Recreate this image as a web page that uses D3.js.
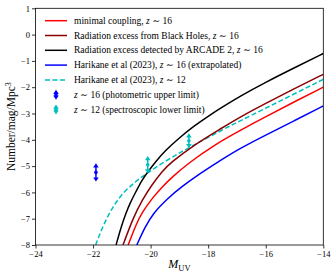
<!DOCTYPE html>
<html>
<head>
<meta charset="utf-8">
<script src="https://cdn.jsdelivr.net/npm/d3@7"></script>
<style>
  body { margin: 0; background: #fff; }
  svg { display: block; }
  text { font-family: "Liberation Serif", "DejaVu Serif", serif; fill: #000; }
</style>
</head>
<body>
<div id="chart"></div>
<script>
// curves: M_UV vs log10 number density
const mMinimal = [-20.78, -20.5, -20.31, -19.95, -19.56, -19.32, -18.69, -17.8, -16.85, -16, -15, -14];
const phiMinimal = [-8, -7.2, -6.79, -6.22, -5.75, -5.48, -4.89, -4.2, -3.62, -3.12, -2.55, -2.0];

const mBH = [-20.96, -20.6, -20.3, -19.96, -19.6, -19.32, -18.5, -17.55, -16.89, -16, -15, -14];
const phiBH = [-8, -6.95, -6.3, -5.72, -5.2, -4.88, -4.2, -3.57, -3.13, -2.61, -2.05, -1.51];

const mArcade = [-21.2, -21.05, -20.86, -20.7, -20.5, -20.31, -20.1, -19.8, -19.5, -19, -18.5, -18, -17.5, -16.89, -16, -15, -14];
const phiArcade = [-8, -7.4, -6.79, -6.37, -5.95, -5.55, -5.22, -4.8, -4.42, -3.92, -3.48, -3.1, -2.75, -2.34, -1.81, -1.26, -0.72];

const mHar16 = [-20.48, -20.2, -19.91, -19.4, -18.92, -18.3, -17.7, -16.89, -16, -15, -14];
const phiHar16 = [-8, -7.33, -6.79, -6.22, -5.78, -5.3, -4.87, -4.32, -3.82, -3.27, -2.71];

const mHar12 = [-21.91, -21.64, -21.3, -20.95, -20.54, -20.14, -19.56, -19, -18.5, -17.47, -16.89, -16, -15, -14];
const phiHar12 = [-8, -7.22, -6.52, -6.0, -5.6, -5.28, -4.86, -4.5, -4.2, -3.6, -3.28, -2.8, -2.25, -1.7];

// limits (error bars)
const limM16 = [-21.9];
const limLow16 = [-5.59];
const limHigh16 = [-4.89];

const limM12 = [-20.1, -18.67];
const limLow12 = [-5.28, -4.32];
const limHigh12 = [-4.62, -3.75];

const xTicks = [-24, -22, -20, -18, -16, -14];
const yTicks = [-8, -7, -6, -5, -4, -3, -2, -1, 0, 1];

const W = 336, H = 276;
const padL = 35.5, padR = 323.3, padT = 8.3, padB = 245;

const svg = d3.select("#chart").append("svg").attr("width", W).attr("height", H);

const x = d3.scaleLinear().domain([-24, -14]).range([padL, padR]);
const y = d3.scaleLinear().domain([-8, 1]).range([padB, padT]);

const fmt = d => String(d).replace("-", "\u2212");

// axes
const gx = svg.append("g").attr("transform", `translate(0,${padB})`)
  .call(d3.axisBottom(x).tickValues(xTicks).tickSize(3.5).tickPadding(2).tickSizeOuter(0).tickFormat(fmt));
const gy = svg.append("g").attr("transform", `translate(${padL},0)`)
  .call(d3.axisLeft(y).tickValues(yTicks).tickSize(3.5).tickPadding(2).tickSizeOuter(0).tickFormat(fmt));
[gx, gy].forEach(g => {
  g.select(".domain").remove();
  g.selectAll("line").attr("stroke", "#000").attr("stroke-width", 0.8);
  g.selectAll("text").style("font-family", '"Liberation Serif", serif').style("font-size", "8.5px").attr("fill", "#000");
});

svg.append("clipPath").attr("id", "clip").append("rect")
  .attr("x", padL).attr("y", padT).attr("width", padR - padL).attr("height", padB - padT);

const line = d3.line().x(d => x(d[0])).y(d => y(d[1])).curve(d3.curveBasis);
const series = [
  { m: mHar12, v: phiHar12, color: "#00bfbf", dash: "5,2.5" },
  { m: mHar16, v: phiHar16, color: "#0000ff" },
  { m: mMinimal, v: phiMinimal, color: "#ff0000" },
  { m: mBH, v: phiBH, color: "#8b0000" },
  { m: mArcade, v: phiArcade, color: "#000000" }
];
const plot = svg.append("g").attr("clip-path", "url(#clip)");
series.forEach(s => {
  plot.append("path")
    .datum(s.m.map((m, i) => [m, s.v[i]]))
    .attr("d", line)
    .attr("fill", "none")
    .attr("stroke", s.color)
    .attr("stroke-width", 1.5)
    .attr("stroke-dasharray", s.dash || null);
});

function arrowBar(g, cx, y1, y2, color) {
  // y1 top pixel, y2 bottom pixel
  g.append("line").attr("x1", cx).attr("x2", cx).attr("y1", y1 + 2).attr("y2", y2 - 2)
    .attr("stroke", color).attr("stroke-width", 1.5);
  g.append("path").attr("d", `M${cx},${y1} L${cx - 2.8},${y1 + 4.2} L${cx + 2.8},${y1 + 4.2} Z`).attr("fill", color);
  g.append("path").attr("d", `M${cx},${y2} L${cx - 2.8},${y2 - 4.2} L${cx + 2.8},${y2 - 4.2} Z`).attr("fill", color);
  g.append("circle").attr("cx", cx).attr("cy", (y1 + y2) / 2).attr("r", 1.8).attr("fill", color);
}

limM16.forEach((m, i) => arrowBar(svg, x(m), y(limHigh16[i]), y(limLow16[i]), "#0000ff"));
limM12.forEach((m, i) => arrowBar(svg, x(m), y(limHigh12[i]), y(limLow12[i]), "#00bfbf"));

// frame
svg.append("rect").attr("x", padL).attr("y", padT).attr("width", padR - padL).attr("height", padB - padT)
  .attr("fill", "none").attr("stroke", "#000").attr("stroke-width", 0.8);

// legend
const legendItems = [
  { pre: "minimal coupling, ", z: "16", post: "", color: "#ff0000", type: "line" },
  { pre: "Radiation excess from Black Holes, ", z: "16", post: "", color: "#8b0000", type: "line" },
  { pre: "Radiation excess detected by ARCADE 2, ", z: "16", post: "", color: "#000000", type: "line" },
  { pre: "Harikane et al (2023), ", z: "16", post: " (extrapolated)", color: "#0000ff", type: "line" },
  { pre: "Harikane et al (2023), ", z: "12", post: "", color: "#00bfbf", type: "dash" },
  { pre: "", z: "16", post: " (photometric upper limit)", color: "#0000ff", type: "bar" },
  { pre: "", z: "12", post: " (spectroscopic lower limit)", color: "#00bfbf", type: "bar" }
];
const leg = svg.append("g");
legendItems.forEach((d, i) => {
  const ly = 20.7 + i * 14.8;
  if (d.type === "bar") {
    arrowBar(leg, 56, ly - 5, ly + 5, d.color);
  } else {
    leg.append("line").attr("x1", 45).attr("x2", 67).attr("y1", ly).attr("y2", ly)
      .attr("stroke", d.color).attr("stroke-width", 1.5)
      .attr("stroke-dasharray", d.type === "dash" ? "5,2.5" : null);
  }
  const t = leg.append("text").attr("x", 74).attr("y", ly + 3).style("font-size", "9.5px");
  if (d.pre) t.append("tspan").text(d.pre);
  t.append("tspan").style("font-style", "italic").text("z");
  t.append("tspan").text(" \u223C " + d.z + d.post);
});

// axis labels
const xl = svg.append("text").attr("x", (padL + padR) / 2).attr("y", 268).attr("text-anchor", "middle")
  .style("font-size", "12px");
xl.append("tspan").style("font-style", "italic").text("M");
xl.append("tspan").attr("dy", 2.5).style("font-size", "8.5px").text("UV");

const yl = svg.append("text").attr("transform", `translate(15,${(padT + padB) / 2}) rotate(-90)`)
  .attr("text-anchor", "middle").style("font-size", "11.5px");
yl.append("tspan").text("Number/mag/Mpc");
yl.append("tspan").attr("dy", -4).style("font-size", "8px").text("3");
</script>
</body>
</html>
